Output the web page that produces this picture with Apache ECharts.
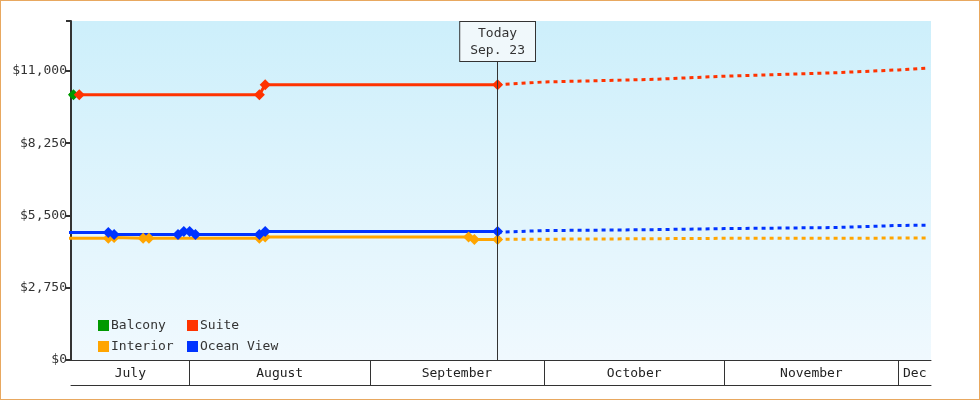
<!DOCTYPE html><html><head><meta charset="utf-8">
<script src="https://cdn.jsdelivr.net/npm/echarts@6/dist/echarts.min.js"></script>
<style>html,body{margin:0;padding:0;background:#fff}#c{width:978px;height:398px;border:1px solid #e8a860}</style>
</head><body><div id="c"></div><script>
const seriesNames=['Balcony','Suite','Interior','Ocean View'];
const colors=['#009900','#ff3300','#ffa500','#0033ff'];
const monthStarts=['2024-07-01','2024-08-01','2024-09-01','2024-10-01','2024-11-01','2024-12-01','2025-01-01'];
const monthNames=['July','August','September','October','November','Dec'];
const today='2024-09-23';
const balcony=[['2024-07-11',10090],['2024-07-12',10090]];
const suite=[['2024-07-13',10090],['2024-08-13',10090],['2024-08-14',10470],['2024-09-23',10470]];
const interior=[['2024-07-11',4630],['2024-07-18',4630],['2024-07-19',4660],['2024-07-24',4630],['2024-07-25',4630],['2024-08-13',4630],['2024-08-14',4680],['2024-09-18',4680],['2024-09-19',4590],['2024-09-23',4590]];
const ocean=[['2024-07-11',4855],['2024-07-18',4855],['2024-07-19',4780],['2024-07-30',4780],['2024-07-31',4890],['2024-08-01',4890],['2024-08-02',4780],['2024-08-13',4780],['2024-08-14',4890],['2024-09-23',4890]];
const suiteProj=[['2024-09-23',10470],['2024-10-01',10580],['2024-10-20',10680],['2024-11-01',10800],['2024-11-20',10930],['2024-12-01',11040],['2024-12-06',11110]];
const interiorProj=[['2024-09-23',4590],['2024-10-15',4610],['2024-11-01',4630],['2024-12-06',4640]];
const oceanProj=[['2024-09-23',4860],['2024-10-01',4925],['2024-10-20',4960],['2024-11-01',5000],['2024-11-20',5040],['2024-12-01',5120],['2024-12-06',5130]];
const xMin='2024-07-11T14:00:00Z', xMax='2024-12-06T14:00:00Z';
const yTicks=[0,2750,5500,8250,11000];

const T=s=>new Date(s.length>10?s:s+'T00:00:00Z').getTime();
const conv=a=>a.map(p=>[T(p[0]),p[1]]);
const ms=monthStarts.map(T);
const mids=[];for(let i=0;i<6;i++){mids.push((Math.max(ms[i],T(xMin))+Math.min(ms[i+1],T(xMax)))/2);}
const font='DejaVu Sans Mono';
const chart=echarts.init(document.getElementById('c'));
function line(name,data,ci,dashed){return {name,type:'line',data:conv(data),color:colors[ci],
 symbol:dashed?'none':'diamond',symbolSize:11,lineStyle:{width:3,type:dashed?[4,4]:'solid',color:colors[ci]},itemStyle:{color:colors[ci]},z:dashed?2:3,animation:false};}
const s4=line('Ocean View',ocean,3);
s4.markLine={symbol:'none',silent:true,animation:false,lineStyle:{color:'#333',width:1,type:'solid'},
 label:{show:true,position:'end',formatter:'Today\nSep. 23',fontFamily:font,fontSize:13,color:'#333',backgroundColor:'#f0f8fb',borderColor:'#333',borderWidth:1,padding:[3,10,2,10],lineHeight:17,distance:0},
 data:[[{coord:[T(today),0]},{coord:[T(today),11380]}]]};
const legBase={icon:'rect',itemWidth:11,itemHeight:11,itemGap:8,orient:'vertical',
 textStyle:{fontFamily:font,fontSize:13,color:'#333',padding:[0,0,0,-3]}};
chart.setOption({
 animation:false,
 textStyle:{fontFamily:font},
 grid:{left:70,right:48,top:20,bottom:39,show:true,borderWidth:0,
  backgroundColor:new echarts.graphic.LinearGradient(0,0,0,1,[{offset:0,color:'#cdeffb'},{offset:1,color:'#f0f9fe'}])},
 xAxis:[{type:'value',min:T(xMin),max:T(xMax),
   axisLine:{lineStyle:{color:'#333',width:1}},
   axisTick:{show:true,customValues:ms.slice(1,6),length:25,lineStyle:{color:'#333'}},
   axisLabel:{customValues:mids,formatter:(v)=>{const i=mids.findIndex(m=>Math.abs(m-v)<1e6);return monthNames[i]||'';},color:'#222',fontSize:13,fontFamily:font,margin:7},
   splitLine:{show:false}},
  {type:'value',position:'bottom',offset:25,min:T(xMin),max:T(xMax),axisLine:{lineStyle:{color:'#333'}},axisTick:{show:false},axisLabel:{show:false},splitLine:{show:false}}],
 yAxis:{type:'value',min:0,max:12900,interval:2750,
  axisLine:{show:true,lineStyle:{color:'#333',width:2}},
  axisTick:{show:true,length:5,lineStyle:{color:'#333',width:2}},
  axisLabel:{formatter:v=>yTicks.includes(v)?'$'+v.toLocaleString('en-US'):'',color:'#333',fontSize:13,fontFamily:font,margin:4},
  splitLine:{show:false}},
 legend:[Object.assign({left:92,top:313,data:['Balcony','Interior']},legBase),
  Object.assign({left:181,top:313,data:['Suite','Ocean View']},legBase)],
 series:[line('Balcony',balcony,0),line('Suite',suite,1),line('Interior',interior,2),s4,
  line('SuiteP',suiteProj,1,true),line('InteriorP',interiorProj,2,true),line('OceanP',oceanProj,3,true)]
});
</script></body></html>
